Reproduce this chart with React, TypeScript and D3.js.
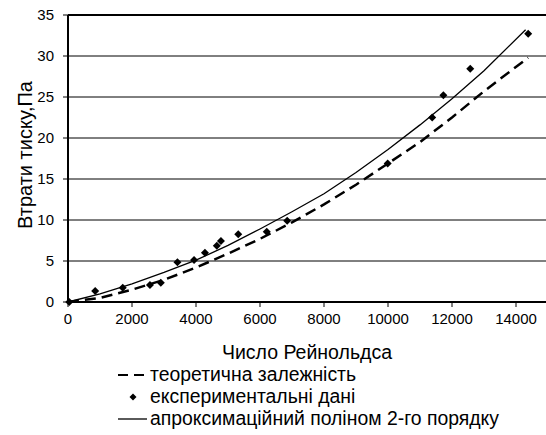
import React from "react";
import * as d3 from "d3";

// Experimental data: Reynolds number vs pressure loss (Pa)
const reynolds = [40, 850, 1710, 2560, 2900, 3420, 3940, 4280, 4650, 4780, 5320, 6210, 6850, 9990, 11380, 11730, 12570, 14380];
const pressureLoss = [0, 1.34, 1.74, 2.07, 2.35, 4.84, 5.12, 6.0, 6.87, 7.44, 8.26, 8.57, 9.91, 16.9, 22.5, 25.2, 28.45, 32.7];

// Theoretical dependence (dashed)
const theoryRe = [0, 1000, 2000, 3000, 4000, 5000, 6000, 7000, 8000, 9000, 10000, 11000, 12000, 13000, 14380];
const theoryLoss = [0, 0.5, 1.5, 2.7, 4.2, 5.9, 7.7, 9.7, 11.9, 14.3, 16.9, 19.5, 22.5, 25.7, 29.8];

// 2nd order polynomial approximation (solid)
const polyRe = [0, 1000, 2000, 3000, 4000, 5000, 6000, 7000, 8000, 9000, 10000, 11000, 12000, 13000, 14300];
const polyLoss = [0, 1.0, 2.2, 3.6, 5.1, 6.9, 8.9, 11.0, 13.2, 15.8, 18.6, 21.6, 24.8, 28.2, 33.2];

const xTicks = [0, 2000, 4000, 6000, 8000, 10000, 12000, 14000];
const yTicks = [0, 5, 10, 15, 20, 25, 30, 35];

const xTitle = "Число Рейнольдса";
const yTitle = "Втрати тиску,Па";
const legendLabels = ["теоретична залежність", "експериментальні дані", "апроксимаційний поліном 2-го порядку"];

const FONT = "'Liberation Sans', Arial, sans-serif";

export default function App() {
  const W = 546, H = 435;
  const x = d3.scaleLinear().domain([0, 15000]).range([68, 548]);
  const y = d3.scaleLinear().domain([0, 35]).range([302, 15]);

  const line = d3
    .line<[number, number]>()
    .x((d) => x(d[0]))
    .y((d) => y(d[1]));

  const theory: [number, number][] = theoryRe.map((r, i) => [r, theoryLoss[i]]);
  const poly: [number, number][] = polyRe.map((r, i) => [r, polyLoss[i]]);

  const diamond = (cx: number, cy: number, s: number) =>
    `M${cx},${cy - s}L${cx + s},${cy}L${cx},${cy + s}L${cx - s},${cy}Z`;

  const legendY = [381, 403, 425];

  return (
    <svg width={W} height={H} style={{ position: "absolute", left: 0, top: 0, background: "#fff" }} fontFamily={FONT}>
      <rect x={0} y={0} width={W} height={H} fill="#fff" />
      {/* gridlines */}
      {yTicks.filter((t) => t > 0).map((t) => (
        <line key={"g" + t} x1={x(0)} x2={W} y1={y(t)} y2={y(t)} stroke="#000" strokeWidth={t === 35 ? 2 : 1} />
      ))}
      {/* y ticks and labels */}
      {yTicks.map((t) => (
        <g key={"y" + t}>
          <line x1={x(0) - 5} x2={x(0)} y1={y(t)} y2={y(t)} stroke="#000" strokeWidth={1} />
          <text x={54} y={y(t)} dy="0.36em" textAnchor="end" fontSize={15} fill="#000">
            {t}
          </text>
        </g>
      ))}
      {/* x ticks and labels */}
      {xTicks.map((t) => (
        <g key={"x" + t}>
          <line x1={x(t)} x2={x(t)} y1={y(0)} y2={y(0) + 5} stroke="#000" strokeWidth={1} />
          <text x={x(t)} y={324} textAnchor="middle" fontSize={15} fill="#000">
            {t}
          </text>
        </g>
      ))}
      {/* axes */}
      <line x1={x(0)} x2={x(0)} y1={y(35)} y2={y(0)} stroke="#000" strokeWidth={2} />
      <line x1={x(0)} x2={W} y1={y(0)} y2={y(0)} stroke="#000" strokeWidth={2} />

      {/* series */}
      <path d={line(theory) || ""} fill="none" stroke="#000" strokeWidth={2.5} strokeDasharray="11 6" />
      <path d={line(poly) || ""} fill="none" stroke="#000" strokeWidth={1.3} />
      {reynolds.map((r, i) => (
        <path key={"p" + i} d={diamond(x(r), y(pressureLoss[i]), 4)} fill="#000" />
      ))}

      {/* titles */}
      <text x={307} y={359} textAnchor="middle" fontSize={19.5} fill="#000">
        {xTitle}
      </text>
      <text transform={`translate(32,155) rotate(-90)`} textAnchor="middle" fontSize={20} fill="#000">
        {yTitle}
      </text>

      {/* legend */}
      <line x1={118} x2={144} y1={legendY[0] - 6} y2={legendY[0] - 6} stroke="#000" strokeWidth={2} strokeDasharray="10 6" />
      <path d={diamond(133, legendY[1] - 6, 3.5)} fill="#000" />
      <line x1={118} x2={147} y1={legendY[2] - 6} y2={legendY[2] - 6} stroke="#000" strokeWidth={1.3} />
      {legendLabels.map((l, i) => (
        <text key={"l" + i} x={150} y={legendY[i]} fontSize={19.4} fill="#000">
          {l}
        </text>
      ))}
    </svg>
  );
}
